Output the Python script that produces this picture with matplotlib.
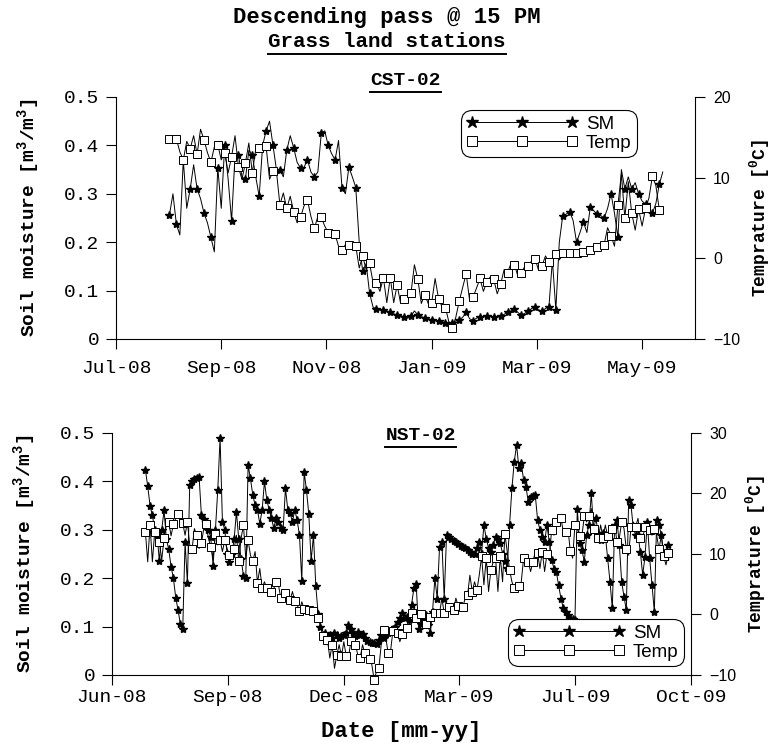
"""
Soil moisture vs. temperature, descending pass, grass land stations.
"""
import matplotlib
matplotlib.use('Agg')
import matplotlib.pyplot as plt
from matplotlib.lines import Line2D
from matplotlib.ticker import FormatStrFormatter
import matplotlib.dates as mdates
import pandas as pd

plt.rcParams['mathtext.fontset'] = 'custom'
plt.rcParams['mathtext.rm'] = 'Liberation Mono:bold'
plt.rcParams['mathtext.it'] = 'Liberation Mono:bold'
plt.rcParams['mathtext.bf'] = 'Liberation Mono:bold'

MONO = 'Liberation Mono'
SANS = 'Liberation Sans'

# ---- CST-02 (one value every 2 days) ----
cst_start = '2008-08-03'
cst_sm = [
    0.257, 0.30, 0.237, 0.215, 0.37, 0.27, 0.31, 0.36, 0.31, 0.29,
    0.26, 0.24, 0.21, 0.18, 0.354, 0.27, 0.40, 0.33, 0.244, 0.38,
    0.38, 0.335, 0.33, 0.39, 0.38, 0.335, 0.295, 0.40, 0.43, 0.45,
    0.40, 0.35, 0.35, 0.335, 0.39, 0.42, 0.395, 0.365, 0.353, 0.355,
    0.37, 0.345, 0.335, 0.345, 0.425, 0.43, 0.40, 0.383, 0.37, 0.41,
    0.313, 0.30, 0.355, 0.335, 0.313, 0.20, 0.14, 0.156, 0.095, 0.066,
    0.062, 0.060, 0.060, 0.058, 0.055, 0.052, 0.050,
    0.049, 0.045, 0.043, 0.047, 0.058, 0.050, 0.046, 0.044, 0.042, 0.040,
    0.038, 0.037, 0.036, 0.033, 0.029, 0.034, 0.037, 0.039, 0.045, 0.055,
    0.042, 0.038, 0.043, 0.046, 0.047, 0.048, 0.047, 0.046, 0.045, 0.047,
    0.051, 0.055, 0.058, 0.062, 0.055, 0.049, 0.053, 0.058, 0.063, 0.066,
    0.060, 0.058, 0.063, 0.067, 0.163, 0.060, 0.20, 0.255, 0.258, 0.263,
    0.245, 0.20, 0.22, 0.242, 0.22, 0.273, 0.265, 0.258, 0.255, 0.25,
    0.27, 0.30, 0.26, 0.21, 0.35, 0.31, 0.335, 0.31, 0.323, 0.30,
    0.285, 0.279, 0.265, 0.26, 0.28, 0.32, 0.345,
]
cst_temp = [
    14.8, 14.8, 14.8, 13.2, 12.2, 14.5, 13.6, 15.2, 12.9, 16.0,
    14.7, 13.1, 11.9, 13.8, 14.1, 12.2, 13.1, 10.6, 12.6, 15.2,
    11.3, 9.8, 11.8, 14.3, 10.6, 13.5, 13.7, 13.1, 13.9, 9.8,
    10.8, 10.8, 6.65, 8.1, 6.2, 7.7, 5.8, 4.4, 5.1, 6.5,
    7.2, 5.2, 3.7, 5.2, 5.1, 4.0, 3.2, 2.7, 3.0, 1.5,
    1.0, 1.7, 1.6, 2.0, 1.5, -1.2, 0.3, -1.4, -0.6, -3.0,
    -3.0, -4.1, -2.4, -5.5, -2.4, -5.5, -3.3, -5.6, -5.0, -4.6,
    -4.3, -0.8, -2.6, -5.6, -4.5, -5.6, -5.5, -2.5, -5.0, -6.0,
    -6.1, -7.9, -8.6, -7.3, -5.3, -3.6, -1.9, -5.2, -4.8, -3.7,
    -2.5, -4.1, -2.9, -2.3, -2.6, -4.4, -3.2, -1.4, -1.8, -0.6,
    -0.8, -2.2, -1.8, -1.0, -0.9, -0.3, -0.1, -1.5, -0.9, 0.3,
    -0.5, 0.0, 0.5, -0.2, 0.6, 0.6, 0.6, 0.6, 0.6, 0.7,
    0.8, 0.9, 1.0, 1.2, 1.4, 1.5, 1.7, 3.8, 2.8, 1.5,
    6.6, 10.5, 5.0, 9.5, 5.6, 3.5, 6.1, 4.0, 6.2, 7.5,
    10.2, 9.0, 6.0,
]

# ---- NST-02 (one value every 45 h) ----
nst_start = '2008-07-21 19:00'
nst_sm = [
    0.424, 0.39, 0.35, 0.33, 0.30, 0.29, 0.235, 0.30, 0.34, 0.28,
    0.26, 0.224, 0.20, 0.16, 0.134, 0.105, 0.095, 0.275, 0.19, 0.393,
    0.40, 0.405, 0.408, 0.41, 0.33, 0.323, 0.31, 0.30, 0.285, 0.226,
    0.30, 0.382, 0.49, 0.317, 0.30, 0.25, 0.234, 0.25, 0.28, 0.337,
    0.28, 0.24, 0.205, 0.20, 0.434, 0.406, 0.372, 0.351, 0.341, 0.313,
    0.34,
    0.40, 0.362, 0.341, 0.324, 0.303, 0.324, 0.317, 0.303, 0.30, 0.386,
    0.341, 0.334, 0.317, 0.341, 0.32, 0.289, 0.194, 0.42, 0.382, 0.332,
    0.236, 0.289, 0.183, 0.127, 0.10, 0.083, 0.086, 0.079, 0.083, 0.076,
    0.086, 0.083, 0.076, 0.081, 0.083, 0.086, 0.103, 0.095, 0.086, 0.081,
    0.089, 0.083, 0.084, 0.076, 0.070, 0.068, 0.066, 0.066, 0.064, 0.073,
    0.083, 0.076, 0.086, 0.086, 0.089, 0.095, 0.100, 0.110, 0.117, 0.128,
    0.117,
    0.12, 0.114, 0.145, 0.179, 0.187, 0.096, 0.105, 0.117, 0.124, 0.103,
    0.086, 0.131, 0.20, 0.158, 0.265, 0.275, 0.158, 0.29, 0.286, 0.281,
    0.277, 0.274, 0.271, 0.267, 0.264, 0.262, 0.258, 0.255, 0.251, 0.251,
    0.262, 0.275, 0.251, 0.31, 0.282, 0.262, 0.255, 0.269, 0.286, 0.282,
    0.272, 0.251, 0.236, 0.222, 0.31, 0.386, 0.441, 0.475, 0.427, 0.437,
    0.403, 0.389, 0.358, 0.368, 0.37, 0.372, 0.32, 0.30, 0.286, 0.275,
    0.31, 0.275,
    0.238, 0.22, 0.213, 0.186, 0.158, 0.138, 0.131, 0.124, 0.118, 0.116,
    0.114, 0.344, 0.272, 0.258, 0.234, 0.289, 0.31, 0.375, 0.30, 0.324,
    0.289, 0.279, 0.293, 0.289, 0.241, 0.193, 0.138, 0.31, 0.32, 0.269,
    0.193, 0.162, 0.134, 0.362, 0.351, 0.303, 0.289, 0.289, 0.255, 0.207,
    0.244, 0.317, 0.241, 0.186, 0.131, 0.32, 0.31, 0.289, 0.248, 0.244,
    0.269,
]
nst_temp = [
    13.7, 8.7, 14.8, 8.7, 13.7, 13.1, 12.0, 9.0, 12.6, 14.8,
    15.3, 13.0, 14.9, 15.9, 16.6, 15.3, 15.1, 13.1, 15.3, 11.5,
    10.8, 14.2, 13.1, 10.9, 11.8, 14.2, 14.9, 12.6, 11.2, 9.3,
    13.3, 11.5, 12.3, 10.4, 12.3, 10.9, 9.8, 9.6, 10.8, 13.1,
    8.8, 12.6, 14.8, 9.3, 12.3, 9.8, 8.8, 10.4, 5.2, 7.6,
    4.4,
    5.4, 4.4, 4.9, 3.8, 4.3, 5.3, 4.9, 2.7, 3.8, 3.5,
    3.2, 2.4, 3.8, 2.2, 1.6, 0.6, 2.1, 0.9, 1.3, 0.7,
    1.0, 0.5, 0.2, -0.5, -1.7, -3.5, -5.0, -4.2, -7.2, -5.0,
    -8.9, -6.7, -5.0, -6.9, -4.5, -6.8, -7.2, -4.4, -3.9, -5.0,
    -6.7, -7.2, -5.0, -6.4, -6.1, -7.4, -8.3, -10.8, -9.4, -8.9,
    -5.0, -2.6, -3.9, -6.4, -6.1, -2.8, -2.3, -3.1, -4.5, -3.3,
    -1.7,
    -2.3, -1.7, 0.2, -0.4, -0.5, -1.2, 0.0, 0.5, -1.5, -1.7,
    -0.4, -0.6, 0.2, 0.5, 0.2, 2.7, 0.2, 1.3, 1.3, 0.7,
    0.7, 2.7, 1.4, 0.5, 1.3, 2.7, 3.2, 6.5, 3.8, 5.4,
    4.0, 6.5, 9.6, 4.9, 9.3, 3.8, 7.4, 8.7, 9.3, 3.8,
    9.6, 5.4, 13.3, 10.4, 7.4, 5.4, 4.3, 4.9, 4.7, 5.4,
    9.3, 8.2, 8.7, 7.1, 8.7, 10.4, 10.1, 7.6, 10.4, 7.1,
    10.0, 9.3,
    14.0, 13.1, 15.3, 14.8, 15.9, 13.7, 13.7, 14.2, 10.5, 9.3,
    14.8, 14.2, 13.0, 13.1, 16.2, 15.3, 16.3, 17.5, 14.2, 13.1,
    12.6, 14.8, 12.6, 14.8, 12.9, 13.7, 14.1, 14.8, 12.0, 12.6,
    15.3, 14.2, 10.8, 9.8, 14.5, 15.3, 14.5, 15.9, 12.6, 12.6,
    14.5, 15.3, 14.0, 13.1, 14.1, 13.1, 10.8, 13.1, 9.6, 8.2,
    10.1,
]

# axis setup: (first tick, tick step in days, span in days)
cst_axis = ('2008-07-03', 61, 335.7)
nst_axis = ('2008-06-25', 93, 465)
sm_ticks = [0, 0.1, 0.2, 0.3, 0.4, 0.5]
cst_temp_ticks = [-10, 0, 10, 20]
nst_temp_ticks = [-10, 0, 10, 20, 30]


def underline(fig, txt, gap=3, lw=1.4):
    """Draw a line under a text object (matplotlib has no underline)."""
    fig.canvas.draw()
    bb = txt.get_window_extent()
    inv = fig.transFigure.inverted()
    (x0, y0), (x1, _) = inv.transform([(bb.x0, bb.y0 - gap), (bb.x1, bb.y0 - gap)])
    fig.add_artist(Line2D([x0, x1], [y0, y0], color='black', lw=lw,
                          transform=fig.transFigure))


def draw_station(fig, rect, start, freq, sm, temp, axis, temp_ticks,
                 sm_every, legend_anchor, xpad):
    ax = fig.add_axes(rect)
    ax2 = ax.twinx()

    sm_dates = pd.date_range(start, periods=len(sm), freq=freq)
    t_dates = pd.date_range(start, periods=len(temp), freq=freq)
    ax.plot(sm_dates, sm, color='black', lw=0.7, marker='*', markersize=6,
            markevery=sm_every, markerfacecolor='black', markeredgecolor='black',
            zorder=3)
    ax2.plot(t_dates, temp, color='black', lw=0.7, marker='s', markersize=5.5,
             markevery=2, markerfacecolor='white', markeredgecolor='black',
             markeredgewidth=0.7, clip_on=False, zorder=3)

    first, step, span = axis
    t0 = pd.Timestamp(first)
    ticks = [t0 + pd.Timedelta(days=step * k) for k in range(6)]
    ax.set_xlim(t0, t0 + pd.Timedelta(days=span))
    ax.set_xticks(ticks)
    ax.xaxis.set_major_formatter(mdates.DateFormatter('%b-%y'))

    ax.set_ylim(0, 0.5)
    ax.set_yticks(sm_ticks)
    ax.yaxis.set_major_formatter(FormatStrFormatter('%g'))
    ax2.set_ylim(temp_ticks[0], temp_ticks[-1])
    ax2.set_yticks(temp_ticks)

    for a in (ax, ax2):
        a.spines['top'].set_visible(False)
        for s in a.spines.values():
            s.set_linewidth(0.8)
        a.set_facecolor('none')
    ax.spines['right'].set_visible(False)
    ax2.spines['left'].set_visible(False)
    ax2.spines['bottom'].set_visible(False)

    ax.tick_params(axis='both', direction='out', length=7, width=0.8,
                   labelsize=14)
    ax.tick_params(axis='y', pad=5)
    ax.tick_params(axis='x', pad=xpad)
    ax2.tick_params(axis='y', direction='out', length=7, width=0.8,
                    labelsize=11.5, pad=6)
    for lab in ax.get_xticklabels() + ax.get_yticklabels():
        lab.set_fontfamily(MONO)
    for lab in ax2.get_yticklabels():
        lab.set_fontfamily(SANS)

    ax.set_ylabel('Soil moisture [m$^{3}$/m$^{3}$]', fontfamily=MONO,
                  fontweight='bold', fontsize=14, labelpad=16)
    ax2.set_ylabel('Temprature [$^{0}$C]', fontfamily=MONO,
                   fontweight='bold', fontsize=13, labelpad=5)

    # legend with plain proxy handles (3 markers per entry)
    h_sm = Line2D([], [], color='black', lw=0.7, marker='*', markersize=9,
                  markerfacecolor='black')
    h_t = Line2D([], [], color='black', lw=0.7, marker='s', markersize=6.5,
                 markerfacecolor='white', markeredgewidth=0.7)
    leg = ax2.legend([h_sm, h_t], ['SM', 'Temp'], loc='upper left',
                     bbox_to_anchor=legend_anchor, borderaxespad=0,
                     numpoints=3, handlelength=5.9, handletextpad=0.45,
                     labelspacing=0.1, borderpad=0.3, fancybox=True,
                     framealpha=1, prop={'family': SANS, 'size': 13.5})
    frame = leg.get_frame()
    frame.set_edgecolor('black')
    frame.set_linewidth(0.8)
    frame.set_boxstyle('round,pad=0,rounding_size=0.6')
    return ax, ax2


fig = plt.figure(figsize=(7.72, 7.49), dpi=100)

top, top2 = draw_station(fig, [0.1503, 0.5474, 0.75, 0.3231], cst_start, '2D',
                         cst_sm, cst_temp, cst_axis, cst_temp_ticks, 2,
                         (0.596, 0.946), 8)
bot, bot2 = draw_station(fig, [0.1451, 0.0988, 0.75, 0.3231], nst_start,
                         pd.Timedelta(hours=45), nst_sm, nst_temp, nst_axis,
                         nst_temp_ticks, 1, (0.684, 0.231), 3)
bot.set_xlabel('Date [mm-yy]', fontfamily=MONO, fontweight='bold',
               fontsize=16, labelpad=11)

t1 = fig.text(0.501, 0.976, 'Descending pass @ 15 PM', ha='center',
              va='center', fontfamily=MONO, fontweight='bold', fontsize=16)
t2 = fig.text(0.501, 0.945, 'Grass land stations', ha='center', va='center',
              fontfamily=MONO, fontweight='bold', fontsize=15)
t3 = fig.text(0.525, 0.893, 'CST-02', ha='center', va='center',
              fontfamily=MONO, fontweight='bold', fontsize=14)
t4 = fig.text(0.545, 0.419, 'NST-02', ha='center', va='center',
              fontfamily=MONO, fontweight='bold', fontsize=14)
for t in (t2, t3, t4):
    underline(fig, t)

fig.savefig('out.png', dpi=100)
plt.close(fig)
